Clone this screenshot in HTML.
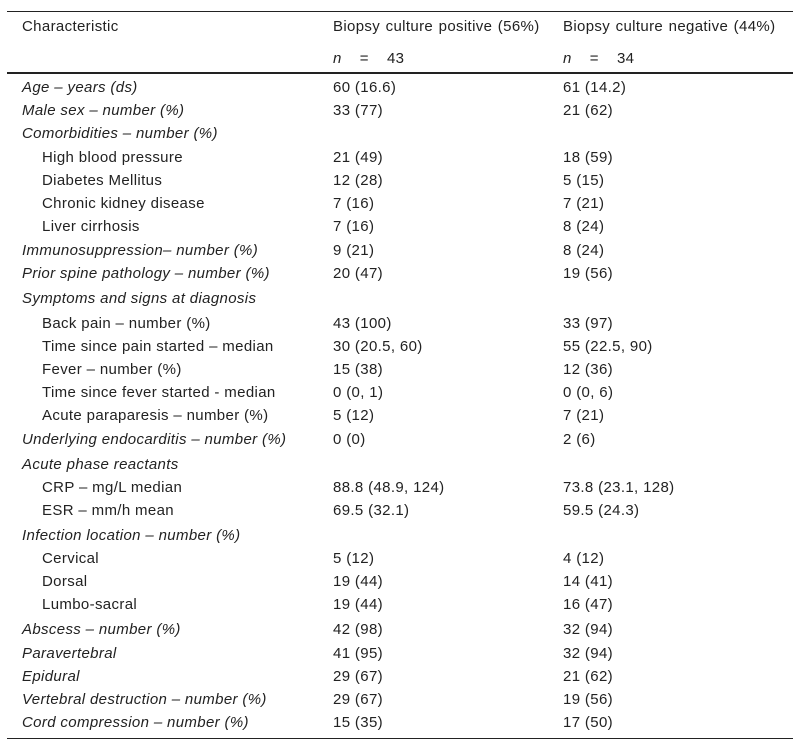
<!DOCTYPE html>
<html><head><meta charset="utf-8"><style>
body{margin:0;width:800px;height:751px;background:#fff;position:relative;font-family:"Liberation Sans",Arial,sans-serif;font-size:15px;letter-spacing:0.35px;color:#222;overflow:hidden}
.r{position:absolute;left:0;width:800px;height:20px;line-height:20px}
.r span{position:absolute;white-space:nowrap}
.a{left:22px}.i{left:42px}.b{left:333px}.c{left:563px}
.it{font-style:italic}
.h span{word-spacing:1px}
.ln{position:absolute;left:7px;width:786px;background:#222}
</style></head><body>
<div class="ln" style="top:11px;height:1px"></div>
<div class="ln" style="top:72px;height:2px"></div>
<div class="ln" style="top:738px;height:1px"></div>
<div class="r h" style="top:17px"><span class="a">Characteristic</span><span class="b">Biopsy culture positive (56%)</span><span class="c">Biopsy culture negative (44%)</span></div>
<div class="r" style="top:49px"><span class="b"><i>n</i>&nbsp;&nbsp;&nbsp;&nbsp;=&nbsp;&nbsp;&nbsp;&nbsp;43</span><span class="c"><i>n</i>&nbsp;&nbsp;&nbsp;&nbsp;=&nbsp;&nbsp;&nbsp;&nbsp;34</span></div>
<div class="r" style="top:78px"><span class="a it">Age – years (ds)</span><span class="b">60 (16.6)</span><span class="c">61 (14.2)</span></div>
<div class="r" style="top:101px"><span class="a it">Male sex – number (%)</span><span class="b">33 (77)</span><span class="c">21 (62)</span></div>
<div class="r" style="top:124px"><span class="a it">Comorbidities – number (%)</span></div>
<div class="r" style="top:148px"><span class="i">High blood pressure</span><span class="b">21 (49)</span><span class="c">18 (59)</span></div>
<div class="r" style="top:171px"><span class="i">Diabetes Mellitus</span><span class="b">12 (28)</span><span class="c">5 (15)</span></div>
<div class="r" style="top:194px"><span class="i">Chronic kidney disease</span><span class="b">7 (16)</span><span class="c">7 (21)</span></div>
<div class="r" style="top:217px"><span class="i">Liver cirrhosis</span><span class="b">7 (16)</span><span class="c">8 (24)</span></div>
<div class="r" style="top:241px"><span class="a it">Immunosuppression– number (%)</span><span class="b">9 (21)</span><span class="c">8 (24)</span></div>
<div class="r" style="top:264px"><span class="a it">Prior spine pathology – number (%)</span><span class="b">20 (47)</span><span class="c">19 (56)</span></div>
<div class="r" style="top:289px"><span class="a it">Symptoms and signs at diagnosis</span></div>
<div class="r" style="top:314px"><span class="i">Back pain – number (%)</span><span class="b">43 (100)</span><span class="c">33 (97)</span></div>
<div class="r" style="top:337px"><span class="i">Time since pain started – median</span><span class="b">30 (20.5, 60)</span><span class="c">55 (22.5, 90)</span></div>
<div class="r" style="top:360px"><span class="i">Fever – number (%)</span><span class="b">15 (38)</span><span class="c">12 (36)</span></div>
<div class="r" style="top:383px"><span class="i">Time since fever started - median</span><span class="b">0 (0, 1)</span><span class="c">0 (0, 6)</span></div>
<div class="r" style="top:406px"><span class="i">Acute paraparesis – number (%)</span><span class="b">5 (12)</span><span class="c">7 (21)</span></div>
<div class="r" style="top:430px"><span class="a it">Underlying endocarditis – number (%)</span><span class="b">0 (0)</span><span class="c">2 (6)</span></div>
<div class="r" style="top:455px"><span class="a it">Acute phase reactants</span></div>
<div class="r" style="top:478px"><span class="i">CRP – mg/L median</span><span class="b">88.8 (48.9, 124)</span><span class="c">73.8 (23.1, 128)</span></div>
<div class="r" style="top:501px"><span class="i">ESR – mm/h mean</span><span class="b">69.5 (32.1)</span><span class="c">59.5 (24.3)</span></div>
<div class="r" style="top:526px"><span class="a it">Infection location – number (%)</span></div>
<div class="r" style="top:549px"><span class="i">Cervical</span><span class="b">5 (12)</span><span class="c">4 (12)</span></div>
<div class="r" style="top:572px"><span class="i">Dorsal</span><span class="b">19 (44)</span><span class="c">14 (41)</span></div>
<div class="r" style="top:595px"><span class="i">Lumbo-sacral</span><span class="b">19 (44)</span><span class="c">16 (47)</span></div>
<div class="r" style="top:620px"><span class="a it">Abscess – number (%)</span><span class="b">42 (98)</span><span class="c">32 (94)</span></div>
<div class="r" style="top:644px"><span class="a it">Paravertebral</span><span class="b">41 (95)</span><span class="c">32 (94)</span></div>
<div class="r" style="top:667px"><span class="a it">Epidural</span><span class="b">29 (67)</span><span class="c">21 (62)</span></div>
<div class="r" style="top:690px"><span class="a it">Vertebral destruction – number (%)</span><span class="b">29 (67)</span><span class="c">19 (56)</span></div>
<div class="r" style="top:713px"><span class="a it">Cord compression – number (%)</span><span class="b">15 (35)</span><span class="c">17 (50)</span></div>
</body></html>
